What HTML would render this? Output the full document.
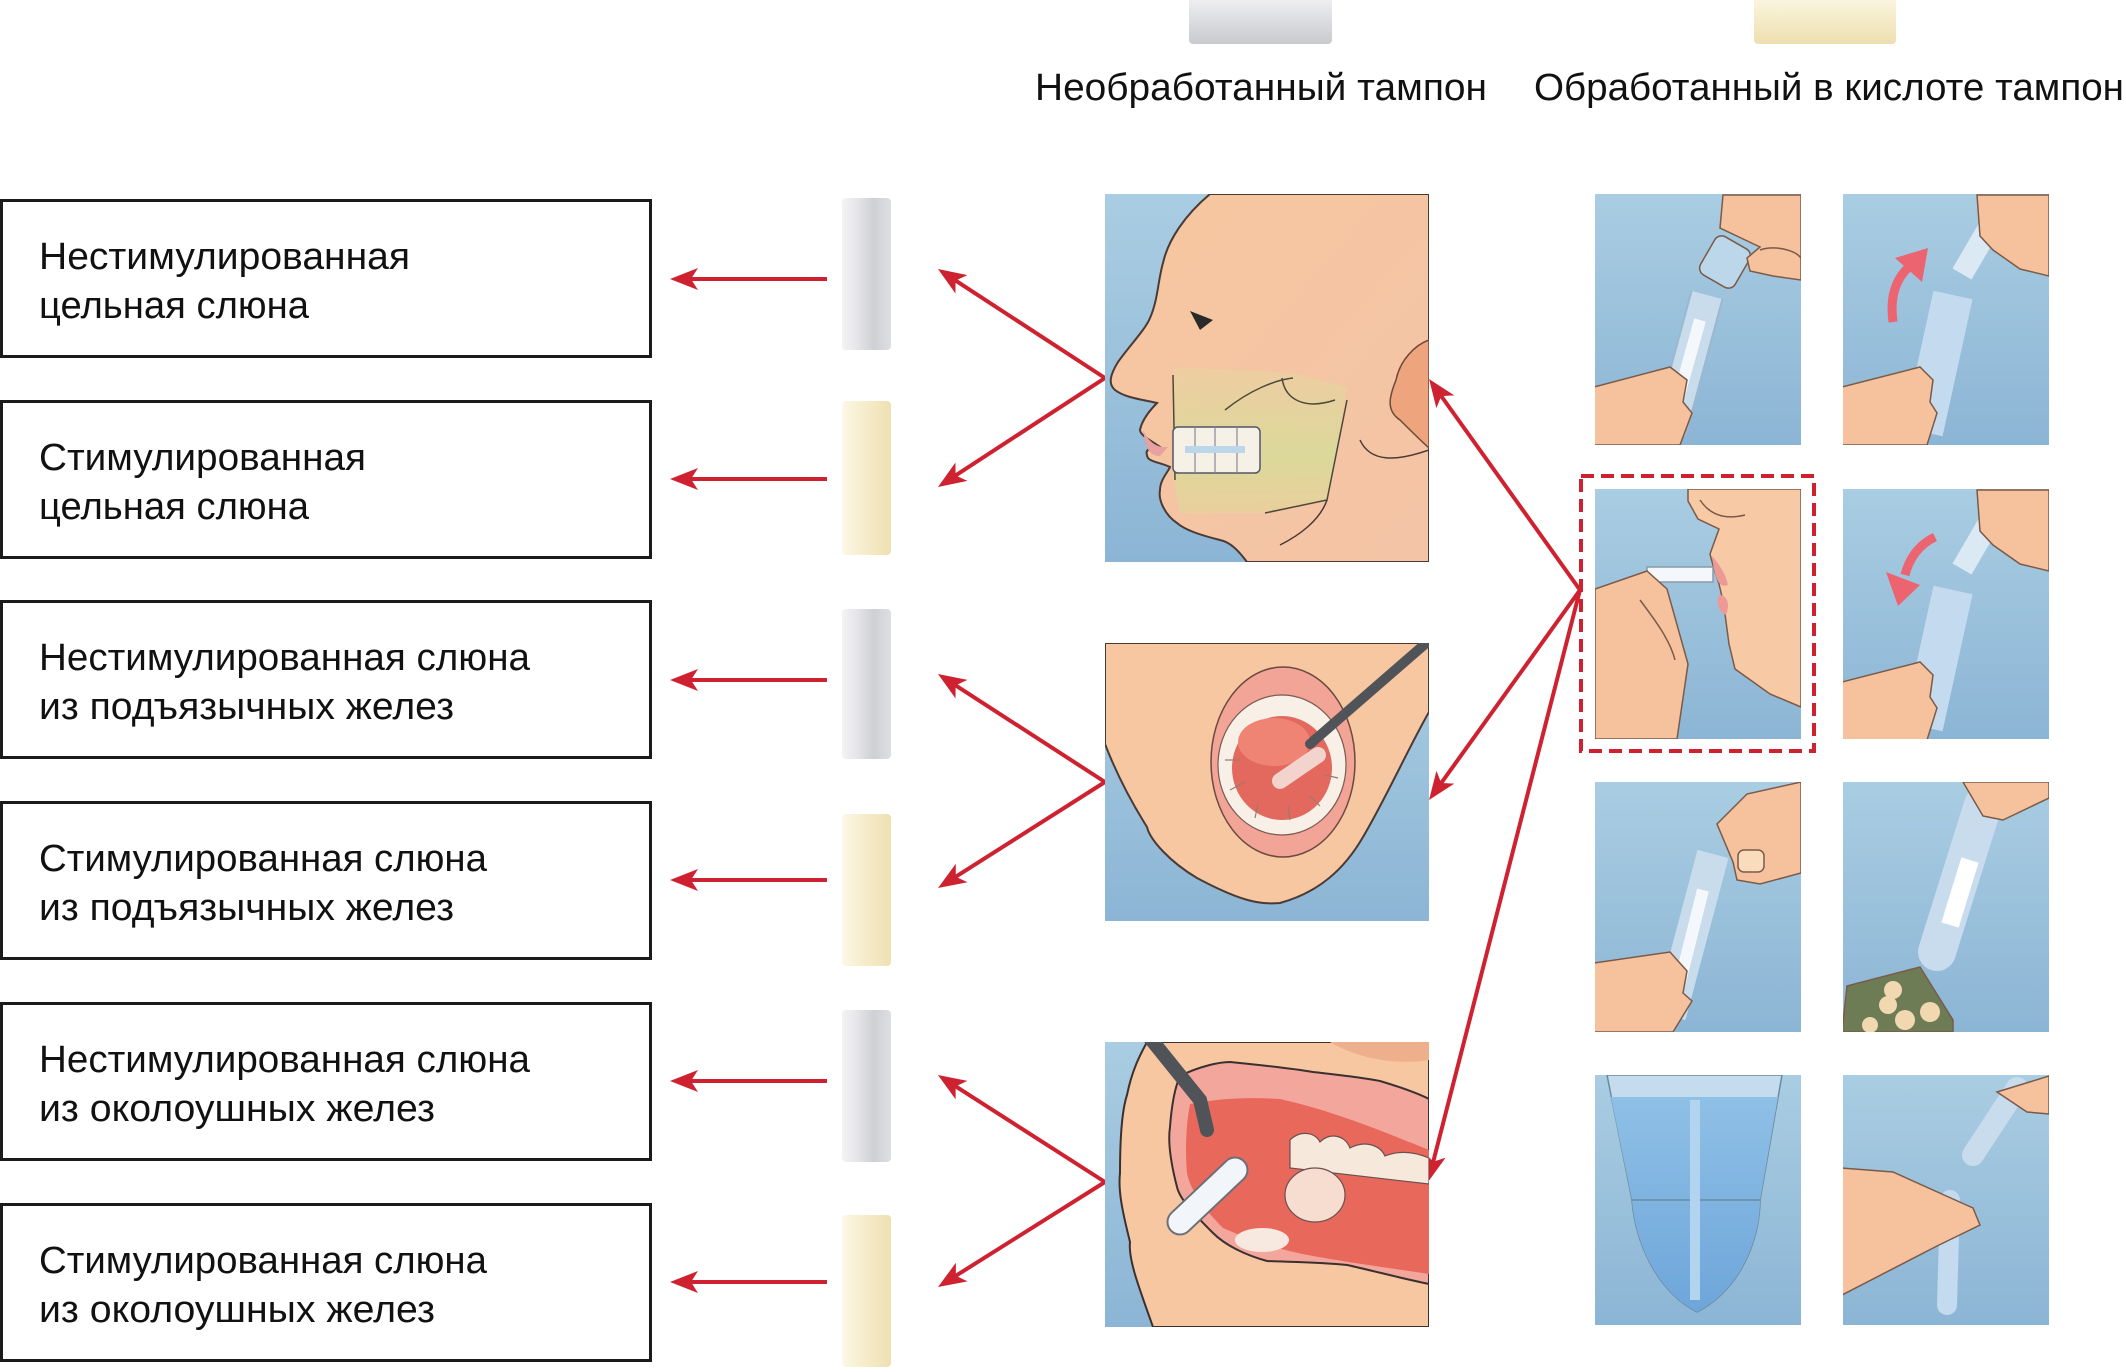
<!DOCTYPE html>
<html><head><meta charset="utf-8"><style>
html,body{margin:0;padding:0;background:#fff;}
svg{display:block;}
text{font-family:"Liberation Sans","DejaVu Sans",sans-serif;fill:#111;}
</style></head><body>
<svg width="2126" height="1372" viewBox="0 0 2126 1372" xmlns="http://www.w3.org/2000/svg">
<defs>
<linearGradient id="bg" x1="0" y1="0" x2="0" y2="1"><stop offset="0" stop-color="#a9cde2"/><stop offset="1" stop-color="#8cb5d5"/></linearGradient>
<linearGradient id="gT" x1="0" y1="0" x2="1" y2="0"><stop offset="0" stop-color="#f3f3f5"/><stop offset="0.3" stop-color="#e6e6ea"/><stop offset="0.65" stop-color="#cfd0d4"/><stop offset="1" stop-color="#dedfe2"/></linearGradient>
<linearGradient id="cT" x1="0" y1="0" x2="1" y2="0"><stop offset="0" stop-color="#fcf8e8"/><stop offset="0.4" stop-color="#f7eecf"/><stop offset="1" stop-color="#efe0b2"/></linearGradient>
<linearGradient id="gH" x1="0" y1="0" x2="0" y2="1"><stop offset="0" stop-color="#f1f1f3"/><stop offset="0.5" stop-color="#dcdde0"/><stop offset="1" stop-color="#c9cace"/></linearGradient>
<linearGradient id="cH" x1="0" y1="0" x2="0" y2="1"><stop offset="0" stop-color="#fbf6e2"/><stop offset="0.5" stop-color="#f5ebc8"/><stop offset="1" stop-color="#eedfb0"/></linearGradient>
<linearGradient id="skin" x1="0" y1="0" x2="1" y2="1"><stop offset="0" stop-color="#f7c6a0"/><stop offset="1" stop-color="#f3c4a6"/></linearGradient>
<linearGradient id="jaw" x1="0" y1="0" x2="0" y2="1"><stop offset="0" stop-color="#e6d6a0" stop-opacity="0.5"/><stop offset="0.6" stop-color="#d6dc98" stop-opacity="0.85"/><stop offset="1" stop-color="#e4d49a" stop-opacity="0.7"/></linearGradient>
<linearGradient id="liq" x1="0" y1="0" x2="0" y2="1"><stop offset="0" stop-color="#8fc0e6"/><stop offset="1" stop-color="#6ea6da"/></linearGradient>
<marker id="ah" viewBox="-36 -14 40 28" refX="-8" refY="0" markerWidth="40" markerHeight="28" markerUnits="userSpaceOnUse" orient="auto">
<path d="M0,0 L-28,-11 L-21,0 L-28,11 Z" fill="#cf2230"/>
</marker>
<clipPath id="c1"><rect x="1105" y="194" width="324" height="368"/></clipPath>
<clipPath id="c2"><rect x="1105" y="643" width="324" height="278"/></clipPath>
<clipPath id="c3"><rect x="1105" y="1042" width="324" height="285"/></clipPath>
<clipPath id="r11"><rect x="1595" y="194" width="206" height="251"/></clipPath>
<clipPath id="r12"><rect x="1843" y="194" width="206" height="251"/></clipPath>
<clipPath id="r21"><rect x="1595" y="489" width="206" height="250"/></clipPath>
<clipPath id="r22"><rect x="1843" y="489" width="206" height="250"/></clipPath>
<clipPath id="r31"><rect x="1595" y="782" width="206" height="250"/></clipPath>
<clipPath id="r32"><rect x="1843" y="782" width="206" height="250"/></clipPath>
<clipPath id="r41"><rect x="1595" y="1075" width="206" height="250"/></clipPath>
<clipPath id="r42"><rect x="1843" y="1075" width="206" height="250"/></clipPath>
</defs>

<rect x="1189" y="-3" width="143" height="47" rx="4" fill="url(#gH)"/>
<rect x="1754" y="-3" width="142" height="47" rx="4" fill="url(#cH)"/>
<text x="1035" y="100" font-size="38" textLength="452" lengthAdjust="spacingAndGlyphs">Необработанный тампон</text>
<text x="1534" y="100" font-size="38" textLength="590" lengthAdjust="spacingAndGlyphs">Обработанный в кислоте тампон</text>

<g fill="none" stroke="#1b1b1b" stroke-width="3">
<rect x="1.5" y="200.5" width="649" height="156"/>
<rect x="1.5" y="401.5" width="649" height="156"/>
<rect x="1.5" y="601.5" width="649" height="156"/>
<rect x="1.5" y="802.5" width="649" height="156"/>
<rect x="1.5" y="1003.5" width="649" height="156"/>
<rect x="1.5" y="1204.5" width="649" height="156"/>
</g>
<g font-size="38">
<text x="39" y="269" textLength="371" lengthAdjust="spacingAndGlyphs">Нестимулированная</text>
<text x="39" y="318" textLength="270" lengthAdjust="spacingAndGlyphs">цельная слюна</text>
<text x="39" y="470" textLength="327" lengthAdjust="spacingAndGlyphs">Стимулированная</text>
<text x="39" y="519" textLength="270" lengthAdjust="spacingAndGlyphs">цельная слюна</text>
<text x="39" y="670" textLength="491" lengthAdjust="spacingAndGlyphs">Нестимулированная слюна</text>
<text x="39" y="719" textLength="415" lengthAdjust="spacingAndGlyphs">из подъязычных желез</text>
<text x="39" y="871" textLength="448" lengthAdjust="spacingAndGlyphs">Стимулированная слюна</text>
<text x="39" y="920" textLength="415" lengthAdjust="spacingAndGlyphs">из подъязычных желез</text>
<text x="39" y="1072" textLength="491" lengthAdjust="spacingAndGlyphs">Нестимулированная слюна</text>
<text x="39" y="1121" textLength="396" lengthAdjust="spacingAndGlyphs">из околоушных желез</text>
<text x="39" y="1273" textLength="448" lengthAdjust="spacingAndGlyphs">Стимулированная слюна</text>
<text x="39" y="1322" textLength="396" lengthAdjust="spacingAndGlyphs">из околоушных желез</text>
</g>

<rect x="842" y="198" width="49" height="152" rx="4" fill="url(#gT)"/>
<rect x="842" y="401" width="49" height="154" rx="4" fill="url(#cT)"/>
<rect x="842" y="609" width="49" height="150" rx="4" fill="url(#gT)"/>
<rect x="842" y="814" width="49" height="152" rx="4" fill="url(#cT)"/>
<rect x="842" y="1010" width="49" height="152" rx="4" fill="url(#gT)"/>
<rect x="842" y="1215" width="49" height="152" rx="4" fill="url(#cT)"/>

<g stroke="#cf2230" stroke-width="4" fill="none" marker-end="url(#ah)">
<line x1="827" y1="279" x2="678" y2="279"/>
<line x1="827" y1="479" x2="678" y2="479"/>
<line x1="827" y1="680" x2="678" y2="680"/>
<line x1="827" y1="880" x2="678" y2="880"/>
<line x1="827" y1="1081" x2="678" y2="1081"/>
<line x1="827" y1="1282" x2="678" y2="1282"/>
<line x1="1105" y1="378" x2="944.7" y2="273.4"/>
<line x1="1105" y1="378" x2="944.7" y2="482.6"/>
<line x1="1105" y1="782" x2="944.7" y2="678.3"/>
<line x1="1105" y1="782" x2="944.8" y2="883.7"/>
<line x1="1105" y1="1182" x2="944.7" y2="1079.3"/>
<line x1="1105" y1="1182" x2="944.8" y2="1282.7"/>
<line x1="1580" y1="590" x2="1433.7" y2="385.5"/>
<line x1="1580" y1="590" x2="1433.7" y2="793.5"/>
<line x1="1580" y1="590" x2="1430" y2="1174.3"/>
</g>

<g clip-path="url(#c1)">
<rect x="1105" y="194" width="324" height="368" fill="url(#bg)"/>
<path d="M1210,194 L1429,194 L1429,562 L1247,562 C1238,550 1230,542 1220,540 C1200,535 1185,530 1177,523 C1165,515 1158,500 1160,490 C1160,480 1168,472 1170,467 C1160,462 1147,462 1147,455 C1145,450 1150,447 1160,447 C1150,440 1140,435 1140,430 C1142,420 1150,410 1157,403 C1145,400 1125,398 1115,390 C1108,384 1110,375 1118,362 C1130,345 1145,330 1150,318 C1158,300 1158,280 1163,263 C1168,240 1185,215 1210,194 Z" fill="url(#skin)" stroke="#4a3a35" stroke-width="2"/>
<path d="M1173,367 L1293,373 L1347,387 L1327,500 L1267,513 L1180,513 L1173,473 Z" fill="url(#jaw)"/>
<path d="M1173,375 L1175,480 M1347,400 L1327,500 L1265,513 M1225,410 C1250,390 1275,380 1293,378 M1282,378 C1285,400 1305,410 1335,400" stroke="#4a4a3a" stroke-width="1.5" fill="none"/>
<path d="M1327,500 C1320,520 1300,535 1280,545" stroke="#4a3a35" stroke-width="1.5" fill="none"/>
<rect x="1173" y="427" width="87" height="46" rx="5" fill="#f5f1e6" stroke="#556" stroke-width="1.5"/>
<path d="M1195,427 V473 M1215,427 V473 M1237,427 V473" stroke="#889" stroke-width="1.2"/>
<rect x="1185" y="446" width="60" height="7" fill="#bcd6ea"/>
<path d="M1190,311 L1213,320 L1200,330 Z" fill="#2a2a2a"/>
<path d="M1429,340 C1415,345 1400,360 1396,380 C1390,395 1385,410 1400,420 C1410,430 1420,440 1429,448 Z" fill="#eea47c" stroke="#6a4a3a" stroke-width="1.5"/>
<path d="M1360,440 C1370,462 1395,462 1429,450" stroke="#4a3a35" stroke-width="1.5" fill="none"/>
<path d="M1143,430 C1150,445 1160,448 1168,447 L1160,456 C1150,456 1146,450 1143,430 Z" fill="#e9a0a0"/>
</g>

<g clip-path="url(#c2)">
<rect x="1105" y="643" width="324" height="278" fill="url(#bg)"/>
<path d="M1105,643 L1429,643 L1429,712 C1410,745 1385,800 1363,837 C1345,868 1320,892 1280,903 C1260,905 1240,901 1197,878 C1170,862 1150,840 1147,827 C1130,800 1115,770 1105,744 Z" fill="#f7c7a2" stroke="#4a3a35" stroke-width="2"/>
<ellipse cx="1283" cy="762" rx="72" ry="95" fill="#f2a496" stroke="#6a4a40" stroke-width="1.5"/>
<ellipse cx="1282" cy="765" rx="64" ry="70" fill="#f8efe6" stroke="#7a5a50" stroke-width="1.2"/>
<ellipse cx="1282" cy="768" rx="50" ry="52" fill="#e3685e"/>
<ellipse cx="1274" cy="742" rx="36" ry="24" fill="#ef8474"/>
<path d="M1225,760 L1240,760 M1230,790 L1245,782 M1255,818 L1258,804 M1290,820 L1288,806 M1320,806 L1310,796 M1338,778 L1325,775" stroke="#9a7a70" stroke-width="1.2"/>
<line x1="1432" y1="638" x2="1310" y2="744" stroke="#505458" stroke-width="10" stroke-linecap="round"/>
<line x1="1280" y1="781" x2="1318" y2="755" stroke="#f2d4cc" stroke-width="16" stroke-linecap="round"/>
</g>

<g clip-path="url(#c3)">
<rect x="1105" y="1042" width="324" height="285" fill="url(#bg)"/>
<path d="M1147,1042 L1429,1042 L1429,1327 L1153,1327 C1140,1290 1128,1260 1130,1242 C1122,1210 1118,1190 1120,1173 C1120,1140 1122,1110 1127,1095 C1132,1070 1140,1055 1147,1042 Z" fill="#f7c7a2" stroke="#3a3030" stroke-width="2"/>
<path d="M1330,1042 C1360,1060 1400,1065 1429,1060 L1429,1042 Z" fill="#eeb08c"/>
<path d="M1180,1076 C1200,1066 1220,1062 1230,1062 C1260,1065 1290,1068 1313,1072 C1340,1075 1365,1078 1380,1081 C1400,1087 1415,1092 1429,1099 L1429,1284 C1400,1278 1370,1270 1347,1265 C1320,1262 1290,1262 1267,1261 C1245,1255 1225,1245 1213,1233 C1195,1215 1180,1200 1177,1187 C1170,1160 1168,1140 1170,1127 C1172,1100 1176,1085 1180,1076 Z" fill="#f3a69c" stroke="#3a3030" stroke-width="2"/>
<path d="M1190,1104 C1220,1098 1250,1097 1280,1099 C1330,1110 1380,1130 1429,1150 L1429,1274 C1390,1268 1345,1262 1313,1256 C1280,1250 1250,1240 1223,1228 C1205,1210 1190,1190 1187,1173 C1185,1150 1186,1125 1190,1104 Z" fill="#e8685c"/>
<path d="M1290,1140 C1300,1130 1315,1132 1320,1142 C1330,1132 1345,1135 1350,1148 C1365,1140 1380,1145 1385,1156 C1400,1150 1415,1152 1429,1158 L1429,1184 L1290,1168 Z" fill="#f7e8dc" stroke="#6a5050" stroke-width="1.2"/>
<ellipse cx="1315" cy="1195" rx="30" ry="27" fill="#f6ddd0" stroke="#6a5050" stroke-width="1.2"/>
<ellipse cx="1262" cy="1240" rx="27" ry="12" fill="#f7e8e0"/>
<line x1="1180" y1="1222" x2="1235" y2="1170" stroke="#6a6f78" stroke-width="27" stroke-linecap="round"/>
<line x1="1180" y1="1222" x2="1235" y2="1170" stroke="#f2f6fa" stroke-width="23" stroke-linecap="round"/>
<path d="M1150,1038 L1200,1100 L1207,1130" stroke="#505458" stroke-width="14" fill="none" stroke-linecap="round"/>
</g>

<g stroke="#7a5a48" stroke-width="1.5">
<g clip-path="url(#r11)">
<rect x="1595" y="194" width="206" height="251" fill="url(#bg)" stroke="none"/>
<line x1="1707" y1="295" x2="1670" y2="432" stroke="#9ab8d0" stroke-width="34"/>
<line x1="1707" y1="295" x2="1670" y2="432" stroke="#c8dcec" stroke-width="30"/>
<line x1="1700" y1="320" x2="1675" y2="410" stroke="#f4f8fc" stroke-width="12"/>
<rect x="1705" y="240" width="40" height="44" rx="8" fill="#bcd6ea" transform="rotate(30 1725 262)"/>
<path d="M1594,387 L1670,367 L1687,380 L1683,402 L1692,413 L1680,445 L1594,445 Z" fill="#f6c29e"/>
<path d="M1723,195 L1801,195 L1801,280 L1773,276 L1750,271 L1747,258 L1760,247 L1720,228 Z" fill="#f6c29e"/>
<path d="M1760,250 C1775,245 1795,250 1801,258" fill="none"/>
</g>
<g clip-path="url(#r12)">
<rect x="1843" y="194" width="206" height="251" fill="url(#bg)" stroke="none"/>
<line x1="1953" y1="295" x2="1923" y2="432" stroke="#c4daee" stroke-width="40"/>
<line x1="1990" y1="226" x2="1962" y2="274" stroke="#dbe9f5" stroke-width="22"/>
<path d="M1842,387 L1920,367 L1933,380 L1930,402 L1937,413 L1927,445 L1842,445 Z" fill="#f6c29e"/>
<path d="M1977,195 L2049,195 L2049,276 L2020,269 L1993,250 L1980,236 Z" fill="#f6c29e"/>
<path d="M1893,322 Q1888,285 1910,266" stroke="#ec6470" stroke-width="9" fill="none"/>
<polygon points="1928,248 1895,258 1922,282" fill="#ec6470" stroke="none"/>
</g>
<g clip-path="url(#r21)">
<rect x="1595" y="489" width="206" height="250" fill="url(#bg)" stroke="none"/>
<path d="M1688,489 L1801,489 L1801,707 L1770,694 L1735,669 L1729,644 L1725,614 L1723,601 L1719,584 L1714,569 L1710,554 L1719,529 L1698,519 L1688,501 Z" fill="#f7c9a5"/>
<path d="M1712,556 C1720,565 1726,575 1728,585 C1720,588 1715,582 1712,556 Z" fill="#ec9a96" stroke="none"/>
<path d="M1719,595 C1728,595 1730,605 1726,615 C1718,612 1716,602 1719,595 Z" fill="#ec9a96" stroke="none"/>
<path d="M1700,500 C1710,515 1725,520 1745,515" fill="none"/>
<rect x="1647" y="567" width="66" height="15" fill="#f4f8fc" stroke="#8a9aa8"/>
<path d="M1595,589 L1647,571 L1667,589 L1688,664 L1677,739 L1595,739 Z" fill="#f6c29e"/>
<path d="M1640,600 C1655,620 1670,640 1675,660" fill="none"/>
</g>
<rect x="1581" y="476" width="233" height="275" fill="none" stroke="#cf2230" stroke-width="4" stroke-dasharray="13 7"/>
<g clip-path="url(#r22)">
<rect x="1843" y="489" width="206" height="250" fill="url(#bg)" stroke="none"/>
<line x1="1953" y1="590" x2="1923" y2="727" stroke="#c4daee" stroke-width="40"/>
<line x1="1990" y1="521" x2="1962" y2="569" stroke="#dbe9f5" stroke-width="22"/>
<path d="M1842,682 L1920,662 L1933,675 L1930,697 L1937,708 L1927,740 L1842,740 Z" fill="#f6c29e"/>
<path d="M1977,490 L2049,490 L2049,571 L2020,564 L1993,545 L1980,531 Z" fill="#f6c29e"/>
<path d="M1935,537 Q1912,548 1905,575" stroke="#ec6470" stroke-width="9" fill="none"/>
<polygon points="1886,572 1920,585 1898,606" fill="#ec6470" stroke="none"/>
</g>
<g clip-path="url(#r31)">
<rect x="1595" y="782" width="206" height="250" fill="url(#bg)" stroke="none"/>
<line x1="1713" y1="854" x2="1670" y2="1016" stroke="#c8dcec" stroke-width="32"/>
<line x1="1703" y1="890" x2="1678" y2="990" stroke="#f4f8fc" stroke-width="12"/>
<path d="M1594,963 L1670,952 L1687,971 L1683,993 L1692,1001 L1673,1032 L1594,1032 Z" fill="#f6c29e"/>
<path d="M1717,824 L1747,794 L1801,782 L1801,873 L1760,884 L1737,880 L1733,862 Z" fill="#f6c29e"/>
<rect x="1738" y="850" width="26" height="22" rx="6" fill="#f8dcbc"/>
</g>
<g clip-path="url(#r32)">
<rect x="1843" y="782" width="206" height="250" fill="url(#bg)" stroke="none"/>
<line x1="1983" y1="805" x2="1937" y2="952" stroke="#c8dcee" stroke-width="38" stroke-linecap="round"/>
<line x1="1970" y1="860" x2="1950" y2="925" stroke="#ffffff" stroke-width="18"/>
<path d="M1963,782 L2049,782 L2049,798 L2003,820 L1983,816 Z" fill="#f6c29e"/>
<path d="M1847,986 L1920,967 L1953,1020 L1953,1032 L1842,1032 Z" fill="#6e7c55"/>
<g fill="#f2d8b0" stroke="none"><circle cx="1893" cy="990" r="9"/><circle cx="1888" cy="1005" r="9"/><circle cx="1905" cy="1020" r="10"/><circle cx="1930" cy="1012" r="10"/><circle cx="1870" cy="1025" r="8"/></g>
</g>
<g clip-path="url(#r41)">
<rect x="1595" y="1075" width="206" height="250" fill="url(#bg)" stroke="none"/>
<path d="M1607,1075 L1782,1075 L1760,1200 C1760,1240 1740,1290 1697,1312 C1655,1290 1635,1240 1632,1200 Z" fill="#c4dcee" stroke="#6a8aa0"/>
<path d="M1611,1097 L1778,1097 L1760,1200 C1760,1240 1740,1290 1697,1312 C1655,1290 1635,1240 1632,1200 Z" fill="url(#liq)" stroke="none"/>
<path d="M1632,1200 L1760,1200" stroke="#6a8aa0"/>
<rect x="1690" y="1100" width="10" height="200" fill="#b2d4ee" stroke="none"/>
</g>
<g clip-path="url(#r42)">
<rect x="1843" y="1075" width="206" height="250" fill="url(#bg)" stroke="none"/>
<line x1="2017" y1="1088" x2="1973" y2="1155" stroke="#c8dcee" stroke-width="22" stroke-linecap="round"/>
<path d="M1997,1092 L2049,1076 L2049,1114 L2027,1112 Z" fill="#f6c29e"/>
<line x1="1950" y1="1200" x2="1947" y2="1305" stroke="#c4daee" stroke-width="20" stroke-linecap="round"/>
<path d="M1842,1168 L1893,1172 L1973,1208 L1980,1225 L1937,1246 L1842,1295 Z" fill="#f6c29e"/>
</g>
</g>
</svg>
</body></html>
